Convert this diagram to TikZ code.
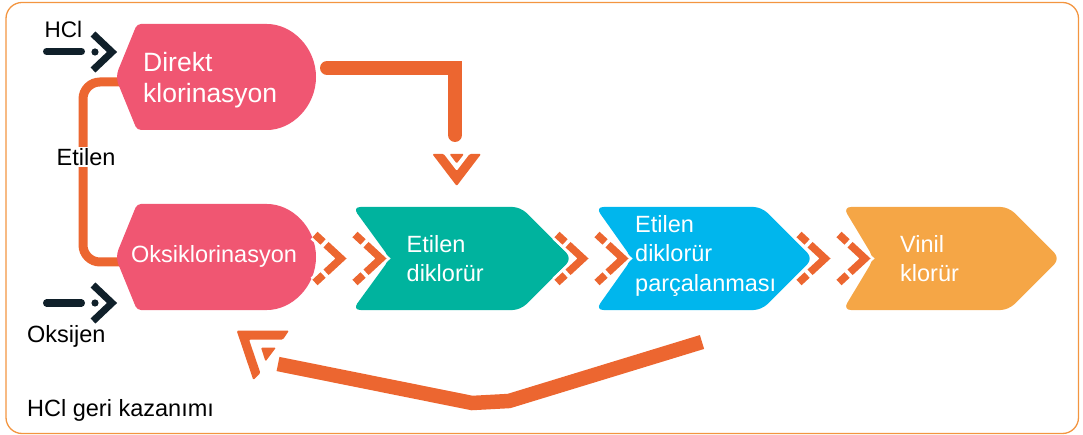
\documentclass[tikz,border=0pt]{standalone}
\usepackage{fontspec}
\setmainfont{Liberation Sans}
\definecolor{pinkc}{HTML}{F05672}
\definecolor{greenc}{HTML}{00B39E}
\definecolor{bluec}{HTML}{00B6ED}
\definecolor{orangebox}{HTML}{F5A646}
\definecolor{arrowor}{HTML}{EC6630}
\definecolor{navyc}{HTML}{10202A}
\definecolor{borderc}{HTML}{F39540}
\tikzset{
  frameline/.style={draw=borderc, line width=1.3pt, rounded corners=16pt},
  flow/.style={draw=arrowor, line width=14pt, line cap=round, line join=miter},
  backflow/.style={draw=arrowor, line width=14.5pt, line cap=butt, line join=miter},
  feedline/.style={draw=arrowor, line width=9pt, rounded corners=17pt},
  headfill/.style={fill=arrowor, rounded corners=1.2pt},
  halo/.style={draw=white, line width=13pt, line join=miter, line cap=butt},
  chevline/.style={draw=arrowor, line width=7.5pt, line join=miter, line cap=butt,
     dash pattern=on 11pt off 4pt on 40.76pt off 4pt on 11pt off 200pt},
  navybar/.style={draw=navyc, line width=7pt, line cap=round},
  navychev/.style={draw=navyc, line width=7pt, line join=miter, line cap=butt},
  lbl/.style={inner sep=0pt, text=black, font=\fontsize{23.5}{28}\selectfont},
  boxtxt/.style={inner sep=0pt, text=white, align=left, font=\fontsize{23.5}{29.5}\selectfont},
}
\newcommand\procbox[5]{%
  \fill[#1, rounded corners=8pt] (#2,207) -- ({#4-51.5},207) -- (#4,258.5) -- ({#4-51.5},310) -- (#2,310) -- (#3,258.5) -- cycle;
  \coordinate (#5) at ({(#2+#4)/2},258.5);}
\newcommand\chevpair[1]{%
  \draw[halo] ({#1-26},234.5) -- (#1,258.5) -- ({#1-26},282.5);
  \draw[chevline] ({#1-26},234.5) -- (#1,258.5) -- ({#1-26},282.5);}
\begin{document}
\begin{tikzpicture}[x=1pt,y=-1pt]
\useasboundingbox (0,0) rectangle (1083,435);
\draw[frameline] (6,2.5) rectangle (1078.5,433.5);

% Etilen feed line
\coordinate (et-top) at (128,82);
\coordinate (et-bot) at (128,262);
\draw[feedline] (et-top) -- (83,82) -- (83,262) -- (et-bot);

% pink reactors
\fill[pinkc, rounded corners=4pt] (137,24) -- (263,24) arc[start angle=-90, end angle=90, radius=53] -- (137,130) -- (117,81) -- (117,73) -- cycle;
\coordinate (dk) at (216,77);
\fill[pinkc, rounded corners=4pt] (137,204) -- (263,204) arc[start angle=-90, end angle=90, radius=53] -- (137,310) -- (117,261) -- (117,253) -- cycle;
\coordinate (ok) at (216,257);

% process boxes
\procbox{greenc}{352.5}{390}{572}{edc}
\procbox{bluec}{595.5}{632}{813}{crack}
\procbox{orangebox}{843}{874}{1060}{vcm}

% chevrons
\chevpair{341}\chevpair{381}
\chevpair{583}\chevpair{623}
\chevpair{825}\chevpair{865}

% Direkt -> EDC arrow
\coordinate (dk-out) at (327,68);
\coordinate (edc-in) at (455,135);
\draw[flow] (dk-out) -| (edc-in);
\fill[headfill] (432.3,154) -- (456.7,186) -- (481.1,154) -- (469.7,154) -- (456.7,171) -- (443.7,154) -- cycle;
\fill[headfill] (449.5,154) -- (464,154) -- (456.7,163.5) -- cycle;

% HCl recovery arrow
\coordinate (rec-start) at (702,342);
\coordinate (rec-end) at (278,364);
\draw[backflow] (rec-start) -- (509,401) -- (472,403) -- (rec-end);
\fill[headfill] (236.7,330.7) -- (289,330.5) -- (283,339.5) -- (249,339.5) -- (260.4,373) -- (253.3,380) -- cycle;
\fill[headfill] (261,347.5) -- (276,347.5) -- (265.5,361.5) -- cycle;

% feed arrows (navy)
\coordinate (hcl-a) at (46.5,51.5);
\coordinate (hcl-b) at (81.5,51.5);
\draw[navybar] (hcl-a) -- (hcl-b);
\fill[navyc] (95,52) circle[radius=3.6];
\draw[navychev] (93,34) -- (112,52) -- (93,70);
\coordinate (ox-a) at (46.5,303);
\coordinate (ox-b) at (81.5,303);
\draw[navybar] (ox-a) -- (ox-b);
\fill[navyc] (95,303) circle[radius=3.6];
\draw[navychev] (93,285) -- (112,303) -- (93,321);

% labels
\node[lbl, anchor=base west, font=\fontsize{22.5}{27}\selectfont] (lhcl) at (44.5,38) {HCl};
\node[lbl, anchor=base west] (lox) at (27,342) {Oksijen};
\node[lbl, anchor=base west, fill=white, inner sep=1.5pt] (let) at (55,165.5) {Etilen};
\node[lbl, anchor=base west] (lrec) at (27,416) {HCl geri kazanımı};

% box texts
\node[boxtxt, anchor=north west, font=\fontsize{26.5}{31}\selectfont] (tdk) at (143,52) {Direkt\\klorinasyon};
\node[boxtxt, anchor=base] (tok) at (214,263) {Oksiklorinasyon};
\node[boxtxt, anchor=north west] (tedc) at (406.5,235) {Etilen\\diklorür};
\node[boxtxt, anchor=north west] (tcr) at (635,215) {Etilen\\diklorür\\parçalanması};
\node[boxtxt, anchor=north west] (tvcm) at (900,235) {Vinil\\klorür};
\end{tikzpicture}
\end{document}
